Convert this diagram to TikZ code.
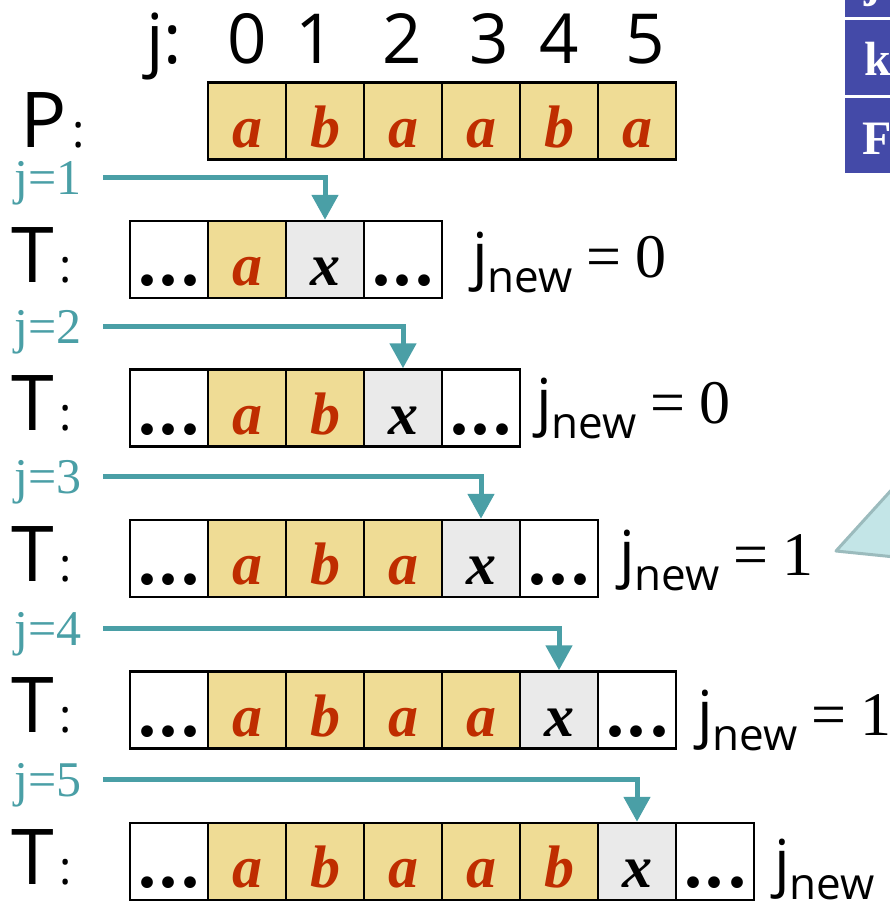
\documentclass[tikz,border=0pt]{standalone}
\usepackage{fontspec}
\setmainfont{Liberation Serif}
\newfontfamily\lsans{Open Sans}
\usetikzlibrary{arrows.meta}

\definecolor{cellyellow}{HTML}{EFDC95}
\definecolor{letterred}{HTML}{BF2D00}
\definecolor{cellgray}{HTML}{EAEAEA}
\definecolor{tealline}{HTML}{4A9FA6}
\definecolor{tableblue}{HTML}{444AA8}
\definecolor{calloutfill}{HTML}{C3E5E7}
\definecolor{calloutedge}{HTML}{9BBBBD}

% j_new = value, sans "j" and "new", serif "= value"
\newcommand\jnewonly{{\lsans\fontsize{62}{62}\selectfont j}\raisebox{-15pt}{\lsans\fontsize{44}{44}\selectfont new}}
\newcommand\jnewval[1]{\jnewonly\kern14pt{\fontsize{62}{62}\selectfont=\kern14pt#1}}
\newcommand\celldots{.\kern4pt.\kern4pt.}

\tikzset{
  cell/.style={draw=black, line width=2.5pt, minimum width=78pt, minimum height=77pt,
    inner sep=0pt, text height=52pt, text depth=0pt,
    font=\fontsize{60}{60}\selectfont\bfseries\itshape},
  pcell/.style={cell, fill=cellyellow, text=letterred},
  xcell/.style={cell, fill=cellgray, text=black},
  dcell/.style={cell, fill=white, text=black, font=\fontsize{72}{72}\selectfont\bfseries},
  pointer/.style={draw=tealline, line width=5pt, -{Triangle[width=26pt,length=25pt]}},
  steplabel/.style={text=tealline, font=\fontsize{50}{50}\selectfont, anchor=base west, inner sep=0pt},
  rowname/.style={font=\lsans\fontsize{77}{77}\selectfont, anchor=base west, inner sep=0pt},
  index/.style={font=\lsans\fontsize{69}{69}\selectfont, anchor=base, inner sep=0pt},
  jnewlabel/.style={anchor=base west, inner sep=0pt},
  tabletext/.style={text=white, font=\fontsize{48}{48}\selectfont\bfseries, anchor=base west, inner sep=0pt},
}

\begin{document}
\begin{tikzpicture}[x=1pt, y=-1pt]
\useasboundingbox (0,0) rectangle (890,902);
\clip (0,0) rectangle (890,902);

% index header
\node[index, anchor=base west] (jhead) at (146,63) {j:};
\foreach \k/\xx in {0/247, 1/315, 2/402, 3/489, 4/559, 5/645}
  \node[index] (idx\k) at (\xx,63) {\k};

% pattern row
\node[rowname] (plabel) at (20,147) {P{\fontsize{46}{46}\selectfont\kern6pt:}};
\foreach \l [count=\i from 0] in {a,b,a,a,b,a}
  \node[pcell] (p\i) at (247+78*\i,121) {\l};

% text rows with the mismatch position x
\foreach \r/\yc/\lets in {1/259.5/{a}, 2/408/{a,b}, 3/558.5/{a,b,a}, 4/710/{a,b,a,a}, 5/861.5/{a,b,a,a,b}} {
  \node[dcell] (r\r c0) at (169,\yc) {\celldots};
  \foreach \l [count=\i] in \lets
    \node[pcell] (r\r c\i) at (169+78*\i,\yc) {\l};
  \pgfmathtruncatemacro\xc{\r+1}
  \pgfmathtruncatemacro\dc{\r+2}
  \node[xcell] (r\r c\xc) at (169+78*\xc,\yc) {x};
  \node[dcell] (r\r c\dc) at (169+78*\dc,\yc) {\celldots};
  \coordinate (s\r) at (103,\yc-82);
  \draw[pointer] (s\r) -| (r\r c\xc.north);
  \node[steplabel] (lab\r) at (14,\yc-65) {j=\r};
  \node[rowname] (t\r) at (11,\yc+22.5) {T{\fontsize{46}{46}\selectfont\kern6pt:}};
}

% resulting j values
\node[jnewlabel] (jn1) at (472,277) {\jnewval{0}};
\node[jnewlabel] (jn2) at (536,423) {\jnewval{0}};
\node[jnewlabel] (jn3) at (619,575) {\jnewval{1}};
\node[jnewlabel] (jn4) at (697,735) {\jnewval{1}};
\node[jnewlabel] (jn5) at (774,884) {\jnewonly};

% callout pointer
\draw[fill=calloutfill, draw=calloutedge, line width=3pt, line join=round]
  (836,551) -- (895,486) -- (895,557) -- cycle;

% table in the corner
\fill[tableblue] (845,-5) rectangle (895,17);
\fill[tableblue] (845,20) rectangle (895,95);
\fill[tableblue] (845,98) rectangle (895,173);
\node[tabletext] (tj) at (864,-3) {j};
\node[tabletext] (tk) at (864,75) {k};
\node[tabletext] (tf) at (862,154) {F};
\end{tikzpicture}
\end{document}
